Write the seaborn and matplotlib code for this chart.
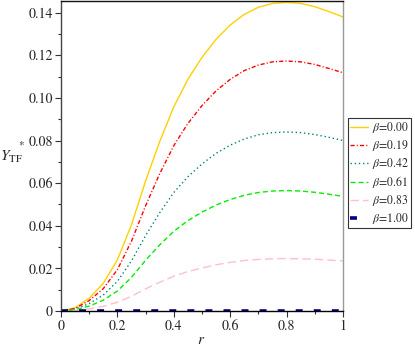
import matplotlib

matplotlib.use("Agg")
import matplotlib.pyplot as plt
import pandas as pd
import seaborn as sns
from matplotlib.ticker import FixedLocator, MultipleLocator, FuncFormatter

# Data (r grid 0..1 step 0.05)
r = [0.00, 0.05, 0.10, 0.15, 0.20, 0.25, 0.30, 0.35, 0.40, 0.45, 0.50,
     0.55, 0.60, 0.65, 0.70, 0.75, 0.80, 0.85, 0.90, 0.95, 1.00]

y_b000 = [0, 0.0015, 0.0060, 0.0130, 0.0240, 0.0405, 0.0610, 0.0795, 0.0958, 0.1087, 0.1190,
          0.1275, 0.1342, 0.1392, 0.1425, 0.1443, 0.1448, 0.1443, 0.1428, 0.1405, 0.1380]
y_b019 = [0, 0.0012, 0.0049, 0.0105, 0.0194, 0.0328, 0.0494, 0.0644, 0.0776, 0.0880, 0.0964,
          0.1033, 0.1087, 0.1128, 0.1154, 0.1169, 0.1173, 0.1169, 0.1157, 0.1138, 0.1118]
y_b042 = [0, 0.0009, 0.0035, 0.0075, 0.0139, 0.0235, 0.0354, 0.0461, 0.0556, 0.0630, 0.0690,
          0.0740, 0.0778, 0.0807, 0.0827, 0.0837, 0.0840, 0.0837, 0.0828, 0.0815, 0.0800]
y_b061 = [0, 0.0006, 0.0023, 0.0051, 0.0094, 0.0158, 0.0238, 0.0310, 0.0374, 0.0424, 0.0464,
          0.0497, 0.0523, 0.0543, 0.0556, 0.0563, 0.0565, 0.0563, 0.0557, 0.0548, 0.0538]
y_b083 = [0, 0.0003, 0.0010, 0.0022, 0.0041, 0.0069, 0.0104, 0.0135, 0.0163, 0.0185, 0.0202,
          0.0217, 0.0228, 0.0237, 0.0242, 0.0245, 0.0246, 0.0245, 0.0243, 0.0239, 0.0235]
y_b100 = [0] * 21

labels = ["$\\beta$=0.00", "$\\beta$=0.19", "$\\beta$=0.42",
          "$\\beta$=0.61", "$\\beta$=0.83", "$\\beta$=1.00"]
series = [y_b000, y_b019, y_b042, y_b061, y_b083, y_b100]

colors = ["#FFD000", "#FF0000", "#008080", "#00EE00", "#FFC0CB", "#000080"]
dashes = ["", (3, 1.5, 0.8, 1.5), (1, 2), (3.6, 2.2), (6, 3), (5, 8)]
widths = [1.0, 1.0, 1.0, 1.0, 1.0, 2.6]

sns.set_theme(style="ticks")
plt.rcParams["font.family"] = ["STIXGeneral", "Liberation Serif", "DejaVu Serif"]
plt.rcParams["mathtext.fontset"] = "stix"
plt.rcParams["lines.scale_dashes"] = False

df = pd.concat(
    [pd.DataFrame({"r": r, "Y": s, "beta": lab}) for s, lab in zip(series, labels)],
    ignore_index=True,
)

fig = plt.figure(figsize=(4.15, 3.46), dpi=100)
ax = fig.add_axes([61 / 415, 1 - 311 / 346, 282 / 415, 311 / 346 - 0.002])

sns.lineplot(
    data=df, x="r", y="Y", hue="beta", style="beta",
    palette=dict(zip(labels, colors)), dashes=dict(zip(labels, dashes)),
    hue_order=labels, style_order=labels, ax=ax, legend=False,
)
for line, lw in zip(ax.get_lines(), widths):
    line.set_linewidth(lw)

ax.set_xlim(0, 1)
ax.set_ylim(0, 0.1456)
ax.xaxis.set_major_locator(FixedLocator([0, 0.2, 0.4, 0.6, 0.8, 1.0]))
ax.xaxis.set_minor_locator(MultipleLocator(0.1))
ax.yaxis.set_major_locator(MultipleLocator(0.02))
ax.yaxis.set_minor_locator(MultipleLocator(0.01))
ax.xaxis.set_major_formatter(FuncFormatter(lambda v, p: "0" if v == 0 else ("1" if v == 1 else f"{v:.1f}")))
ax.yaxis.set_major_formatter(FuncFormatter(lambda v, p: "0" if v == 0 else f"{v:.2f}"))
ax.tick_params(axis="both", which="major", length=4, width=0.8, labelsize=10,
               color="#333333", pad=2)
ax.tick_params(axis="both", which="minor", length=2.5, width=0.8, color="#333333")
ax.set_xlabel("")
ax.set_ylabel("")

for side, c in [("left", "#444444"), ("bottom", "#000000"), ("top", "#111111"), ("right", "#999999")]:
    ax.spines[side].set_visible(True)
    ax.spines[side].set_color(c)
    ax.spines[side].set_linewidth(1.0)

fig.text(201 / 415, 1 - 340 / 346, "$r$", fontsize=11, ha="center", va="center")
fig.text(0.0, 1 - 157 / 346, "$Y_{\\mathrm{TF}}$", fontsize=11, ha="left", va="center")
fig.text(21 / 415, 1 - 145 / 346, "*", fontsize=8, ha="center", va="center")

handles = ax.get_lines()[:6]
leg = fig.legend(
    handles, labels, loc="upper left", bbox_to_anchor=(348 / 415, 1 - 118 / 346),
    bbox_transform=fig.transFigure, fontsize=8.5, frameon=True, fancybox=False,
    handlelength=1.5, handletextpad=0.3, labelspacing=0.25, borderpad=0.2,
    borderaxespad=0,
)
leg.get_frame().set_edgecolor("#000000")
leg.get_frame().set_linewidth(0.8)

fig.savefig("out.png", dpi=100)
